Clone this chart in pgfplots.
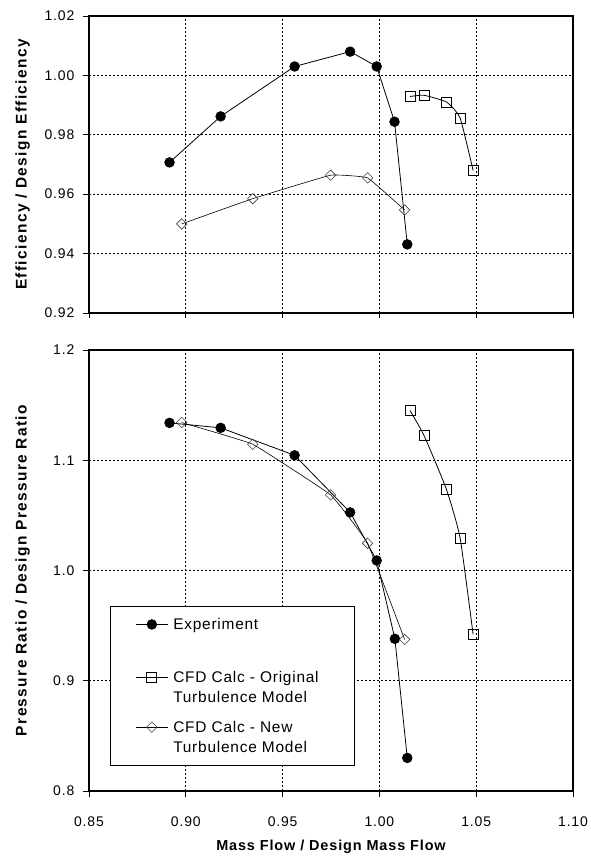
\documentclass[border=0pt]{standalone}
\usepackage{fontspec}
\setmainfont{Liberation Sans}[LetterSpace=5]
\newfontfamily\tickfont{Liberation Sans}[LetterSpace=6]
\newfontfamily\xlabfont{Liberation Sans}[LetterSpace=6]
\newfontfamily\ylabfont{Liberation Sans}[LetterSpace=9]
\usepackage{pgfplots}
\pgfplotsset{compat=1.18}

% two-line legend text, first line carries the baseline
\newcommand\lentry[2]{\begin{tabular}[t]{@{}p{156bp}@{}}#1\\#2\strut\end{tabular}}

\pgfplotsset{
  chartbase/.style={
    scale only axis, width=484bp,
    xmin=0.85, xmax=1.10,
    xtick={0.85,0.90,0.95,1.00,1.05,1.10},
    grid=major,
    major grid style={black, line width=0.95bp, dash pattern=on 1.8bp off 2.2bp},
    axis line style={black, line width=1.1bp},
    tick align=outside, tick pos=left, major tick length=5.5bp,
    tick style={black, line width=0.9bp},
    /pgf/number format/assume math mode=true,
    ticklabel style={font=\tickfont\fontsize{14}{16}\selectfont},
    xticklabel style={anchor=base, yshift=-30bp, inner sep=0pt},
    yticklabel style={anchor=east, xshift=-9bp, inner sep=0pt},
    x tick label style={/pgf/number format/.cd, fixed, fixed zerofill, precision=2},
    xlabel style={font=\xlabfont\bfseries\fontsize{14.5}{16}\selectfont},
    ylabel style={font=\ylabfont\bfseries\fontsize{15.5}{17}\selectfont,
      at={(axis description cs:-0.137,0.5)}, anchor=center},
  },
  expt/.style={black, line width=0.8bp, mark=*, mark size=4.8bp,
    mark options={fill=black, solid}},
  orig/.style={black, line width=0.8bp, smooth, tension=0.3, mark=square, mark size=5bp,
    mark options={fill=white, line width=0.9bp, solid}},
  newm/.style={black, line width=0.6bp, smooth, tension=0.15, mark=square, mark size=3.7bp,
    mark options={rotate=45, fill=white, draw=black!75, line width=0.6bp, solid}},
}

\begin{document}
\begin{tikzpicture}
\useasboundingbox (0,0) rectangle (591bp,856bp);

% efficiency characteristic
\begin{axis}[chartbase,
  at={(89bp,543bp)}, anchor=south west, height=297bp,
  ymin=0.92, ymax=1.02,
  ytick={0.92,0.94,0.96,0.98,1.00,1.02},
  xticklabels={},
  y tick label style={/pgf/number format/.cd, fixed, fixed zerofill, precision=2},
  ylabel={Efficiency / Design Efficiency},
]
\addplot[expt] coordinates {
  (0.8916,0.9707) (0.9180,0.9862) (0.9562,1.0030) (0.9849,1.0080)
  (0.9986,1.0030) (1.0078,0.9844) (1.0144,0.9431)};
\addplot[orig] coordinates {
  (1.0158,0.9929) (1.0231,0.9933) (1.0347,0.9910) (1.0417,0.9856) (1.0484,0.9680)};
\addplot[newm] coordinates {
  (0.8979,0.9500) (0.9346,0.9585) (0.9748,0.9664) (0.9939,0.9655) (1.0130,0.9547)};
\end{axis}

% pressure ratio characteristic
\begin{axis}[chartbase,
  at={(89bp,65bp)}, anchor=south west, height=441bp,
  ymin=0.8, ymax=1.2,
  ytick={0.8,0.9,1.0,1.1,1.2},
  y tick label style={/pgf/number format/.cd, fixed, fixed zerofill, precision=1},
  ylabel={Pressure Ratio / Design Pressure Ratio},
  xlabel={Mass Flow / Design Mass Flow},
  xlabel style={at={(axis description cs:0.5,-0.1338)}, anchor=base},
  legend style={at={(axis description cs:0.0434,0.4195)}, anchor=north west,
    draw=black, line width=0.9bp, fill=white,
    inner xsep=25bp, inner ysep=6.5bp, column sep=5bp, row sep=10bp,
    font=\fontsize{15.5}{20}\selectfont,
    nodes={inner sep=0pt, text depth=},
    cells={anchor=base west}},
  legend image code/.code={
    \draw[line width=0.8bp, mark repeat=2, mark phase=2]
      plot coordinates {(0bp,5.5bp) (16bp,5.5bp) (32bp,5.5bp)};},
]
\addplot[expt] coordinates {
  (0.8916,1.1339) (0.9180,1.1294) (0.9562,1.1045) (0.9849,1.0527)
  (0.9986,1.0091) (1.0080,0.9380) (1.0144,0.8300)};
\addlegendentry{\begin{tabular}[t]{@{}p{156bp}@{}}\rule{0pt}{17bp}Experiment\\[3bp]\strut\end{tabular}}
\addplot[orig] coordinates {
  (1.0158,1.1451) (1.0231,1.1223) (1.0347,1.0732) (1.0417,1.0293) (1.0484,0.9421)};
\addlegendentry{\lentry{CFD Calc - Original}{Turbulence Model}}
\addplot[newm] coordinates {
  (0.8979,1.1342) (0.9346,1.1145) (0.9748,1.0686) (0.9939,1.0247) (1.0130,0.9375)};
\addlegendentry{\lentry{CFD Calc - New}{Turbulence Model}}
\end{axis}
\end{tikzpicture}
\end{document}
